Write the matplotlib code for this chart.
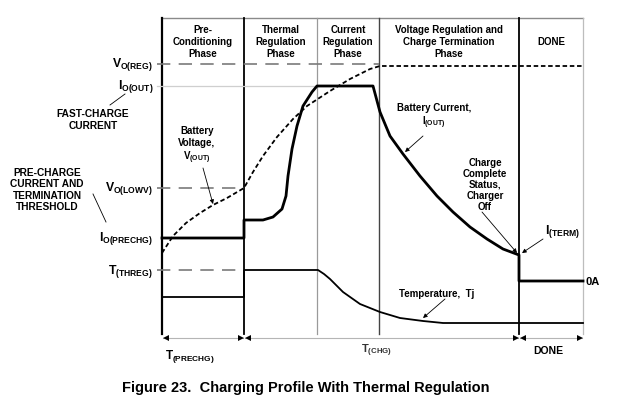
import matplotlib
matplotlib.use("Agg")
import matplotlib.pyplot as plt


# ============================================================
# Layout of the profile (drawing units = reference pixels)
# ============================================================

PHASE_EDGES = [162, 244, 317, 379, 519, 583]
PHASE_TITLES = [
    "Pre-\nConditioning\nPhase",
    "Thermal\nRegulation\nPhase",
    "Current\nRegulation\nPhase",
    "Voltage Regulation and\nCharge Termination\nPhase",
    "DONE",
]
EDGE_COLORS = ["black", "black", "#9a9a9a", "#444444", "black", "#bdbdbd"]
EDGE_WIDTHS = [1.6, 1.3, 0.9, 1.0, 1.3, 0.9]

FRAME_TOP = 19
FRAME_BOTTOM = 335

# reference levels (y grows downwards)
LEVEL_NAMES = [r"$V_{O(REG)}$", r"$I_{O(OUT)}$", r"$V_{O(LOWV)}$",
               r"$I_{O(PRECHG)}$", r"$T_{(THREG)}$"]
LEVEL_Y = [65, 87, 189, 239, 271]
LEVEL_END = [379, 317, 244, 244, 244]
LEVEL_STYLE = ["dash", "solid", "dash", "none", "dash"]

# ============================================================
# Curves
# ============================================================

VOLT_X = [162, 173, 186, 200, 213, 227, 244, 253, 263, 277, 293, 307,
          330, 350, 370, 380, 583]
VOLT_Y = [254, 237, 224, 214, 206, 199, 189, 173, 157, 138, 120, 107,
          92, 80, 70, 67, 67]

CUR_X = [162, 244, 244, 263, 273, 282, 286, 288, 292, 297, 303, 312, 317,
         373, 380, 390, 403, 420, 437, 453, 470, 487, 503, 519, 519, 583]
CUR_Y = [239, 239, 221, 221, 218, 210, 197, 177, 150, 127, 107, 93, 87,
         87, 113, 137, 155, 177, 197, 213, 228, 240, 250, 256, 282, 282]

TEMP_X = [162, 244, 244, 318, 324, 330, 343, 360, 380, 400, 423, 443, 480, 583]
TEMP_Y = [298, 298, 271, 271, 275, 280, 293, 305, 313, 319, 322, 324, 324, 324]

# ============================================================
# Timing arrows under the plot
# ============================================================

TIME_SPANS = [(162, 244), (244, 519), (519, 583)]
TIME_LABELS = [r"$T_{(PRECHG)}$", r"$T_{(CHG)}$", "DONE"]
TIME_LABEL_X = [190, 376, 548]
TIME_LABEL_Y = [357, 351, 351]
ARROW_Y = 339


plt.rcParams.update({
    "font.family": "Liberation Sans",
    "font.weight": "bold",
    "mathtext.fontset": "custom",
    "mathtext.rm": "Liberation Sans:bold",
    "mathtext.it": "Liberation Sans:bold",
    "mathtext.bf": "Liberation Sans:bold",
})

fig = plt.figure(figsize=(6.2, 4.06), dpi=100)
ax = fig.add_axes([0, 0, 1, 1])
ax.set_xlim(0, 620)
ax.set_ylim(406, 0)
ax.axis("off")

FS = 7
SUB_FS = 8.8


def arrow(tail, tip):
    ax.annotate("", xy=tip, xytext=tail,
                arrowprops=dict(arrowstyle="-|>", lw=0.6, color="black",
                                mutation_scale=6, shrinkA=0, shrinkB=0))


# frame and phase dividers
ax.plot([PHASE_EDGES[0], PHASE_EDGES[-1]], [FRAME_TOP, FRAME_TOP],
        color="#8a8a8a", lw=1.0)
for x, c, w in zip(PHASE_EDGES, EDGE_COLORS, EDGE_WIDTHS):
    ax.plot([x, x], [FRAME_TOP, FRAME_BOTTOM], color=c, lw=w)

for i, title in enumerate(PHASE_TITLES):
    xc = (PHASE_EDGES[i] + PHASE_EDGES[i + 1]) / 2
    ax.text(xc, 42, title, ha="center", va="center", fontsize=FS,
            linespacing=1.2)

# reference levels
for name, y, xe, style in zip(LEVEL_NAMES, LEVEL_Y, LEVEL_END, LEVEL_STYLE):
    if style == "dash":
        ax.plot([157, xe], [y, y], color="#7a7a7a", lw=1.2, dashes=(8, 5))
    elif style == "solid":
        ax.plot([157, xe], [y, y], color="#cfcfcf", lw=0.9)
    ax.text(153, y, name, ha="right", va="center", fontsize=SUB_FS)

# side notes
ax.text(93, 120, "FAST-CHARGE\nCURRENT", ha="center", va="center",
        fontsize=FS + 0.3, linespacing=1.2)
ax.plot([110, 125], [106, 95], color="black", lw=0.6)
ax.text(47, 190, "PRE-CHARGE\nCURRENT AND\nTERMINATION\nTHRESHOLD",
        ha="center", va="center", fontsize=FS + 0.3, linespacing=1.15)
ax.plot([93, 106], [195, 223], color="black", lw=0.6)

# curves
ax.plot(TEMP_X, TEMP_Y, color="black", lw=1.3)
ax.plot(VOLT_X, VOLT_Y, color="black", lw=1.3, dashes=(2.5, 1.5))
ax.plot(CUR_X, CUR_Y, color="black", lw=2.0, solid_joinstyle="round")

# curve annotations
ax.text(197, 146, "Battery\nVoltage,\n$V_{(OUT)}$", ha="center", va="center",
        fontsize=FS, linespacing=1.2)
arrow((203, 169), (213, 205))

ax.text(434, 117, "Battery Current,\n$I_{(OUT)}$", ha="center", va="center",
        fontsize=FS, linespacing=1.2)
arrow((423, 137), (405, 153))

ax.text(485, 185, "Charge\nComplete\nStatus,\nCharger\nOff", ha="center",
        va="center", fontsize=FS, linespacing=1.15)
arrow((482, 213), (517, 254))

ax.text(545, 232, "$I_{(TERM)}$", ha="left", va="center", fontsize=SUB_FS)
arrow((543, 240), (522, 254))

ax.text(586, 282, "0A", ha="left", va="center", fontsize=FS + 1)

ax.text(437, 294, "Temperature,  Tj", ha="center", va="center", fontsize=FS)
arrow((445, 300), (423, 319))

# timing arrows
for (x0, x1), lab, lx, ly in zip(TIME_SPANS, TIME_LABELS, TIME_LABEL_X,
                                  TIME_LABEL_Y):
    ax.plot([x0 + 1, x1 - 1], [ARROW_Y, ARROW_Y], color="#b5b5b5", lw=0.8)
    ax.plot([x0 + 3.5], [ARROW_Y], marker="<", color="black", ms=4.5,
            markeredgewidth=0)
    ax.plot([x1 - 3.5], [ARROW_Y], marker=">", color="black", ms=4.5,
            markeredgewidth=0)
    if lab == r"$T_{(CHG)}$":
        ax.text(lx, ly, lab, ha="center", va="center", fontsize=8,
                color="#333333")
    elif lab == "DONE":
        ax.text(lx, ly, lab, ha="center", va="center", fontsize=7.5)
    else:
        ax.text(lx, ly, lab, ha="center", va="center", fontsize=8.5)

ax.text(306, 388, "Figure 23.  Charging Profile With Thermal Regulation",
        ha="center", va="center", fontsize=10.5)

fig.savefig("out.png", dpi=100)
